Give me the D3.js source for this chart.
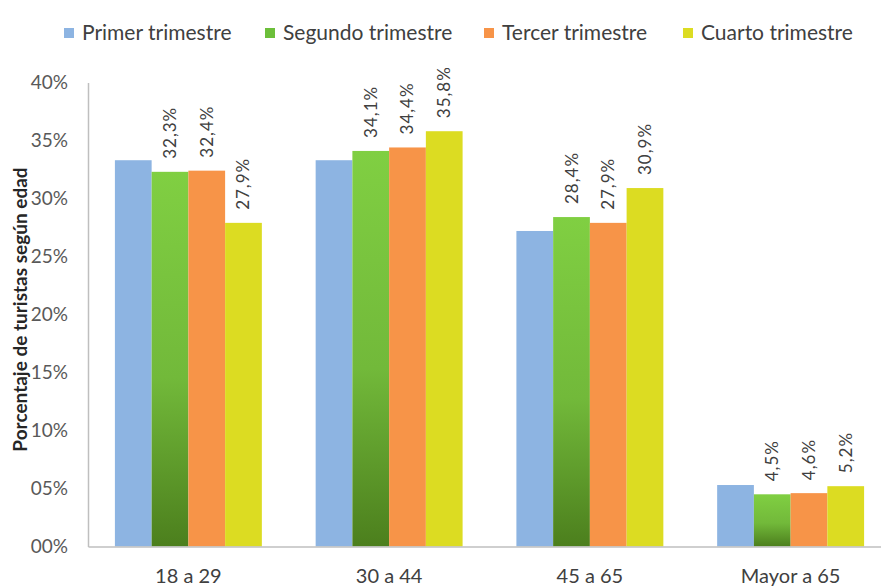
<!DOCTYPE html>
<html>
<head>
<meta charset="utf-8">
<script src="https://cdn.jsdelivr.net/npm/d3@7"></script>
<style>
  body { margin: 0; background: #fff; }
  svg text { font-family: Lato, "Open Sans", sans-serif; }
</style>
</head>
<body>
<div id="chart"></div>
<script>
var categories = ["18 a 29", "30 a 44", "45 a 65", "Mayor a 65"];
var seriesNames = ["Primer trimestre", "Segundo trimestre", "Tercer trimestre", "Cuarto trimestre"];
var primer  = [33.3, 33.3, 27.2, 5.3];
var segundo = [32.3, 34.1, 28.4, 4.5];
var tercer  = [32.4, 34.4, 27.9, 4.6];
var cuarto  = [27.9, 35.8, 30.9, 5.2];
var showLabel = [false, true, true, true];
var yTicks = [0, 5, 10, 15, 20, 25, 30, 35, 40];

function start(){
    var width = 881, height = 586;
    var margin = {top: 82.5, left: 88, right: -10, bottom: 39.5};

    var svg = d3.select("#chart").append("svg")
        .attr("width", width)
        .attr("height", height);

    var defs = svg.append("defs");
    var grad = defs.append("linearGradient")
        .attr("id", "greenGrad")
        .attr("x1", 0).attr("y1", 0).attr("x2", 0).attr("y2", 1);
    grad.append("stop").attr("offset", "0%").attr("stop-color", "#80cf42");
    grad.append("stop").attr("offset", "55%").attr("stop-color", "#72b93a");
    grad.append("stop").attr("offset", "100%").attr("stop-color", "#4c7f1d");

    var colors = ["#8db4e2", "url(#greenGrad)", "#f79448", "#dcdc22"];
    var legendColors = ["#8db4e2", "#6cbf3a", "#f79448", "#dcdc22"];

    var allSeries = [primer, segundo, tercer, cuarto];
    var rows = categories.map(function(c, i){
        return {cat: c, values: allSeries.map(function(s, j){ return {k: j, v: s[i]}; })};
    });

    var x0 = d3.scaleBand()
        .domain(categories)
        .range([margin.left, width - margin.right])
        .paddingInner(0.268)
        .paddingOuter(0.134);
    var x1 = d3.scaleBand()
        .domain(d3.range(seriesNames.length))
        .range([0, x0.bandwidth()]);
    var y = d3.scaleLinear()
        .domain([0, 40])
        .range([height - margin.bottom, margin.top]);

    // bars
    var groups = svg.append("g").selectAll("g")
        .data(rows).enter().append("g")
        .attr("transform", function(d){ return "translate(" + x0(d.cat) + ",0)"; });

    groups.selectAll("rect")
        .data(function(d){ return d.values; })
        .enter().append("rect")
        .attr("x", function(d){ return x1(d.k); })
        .attr("y", function(d){ return y(d.v); })
        .attr("width", x1.bandwidth())
        .attr("height", function(d){ return y(0) - y(d.v); })
        .attr("fill", function(d){ return colors[d.k]; });

    groups.selectAll("text")
        .data(function(d){ return d.values.filter(function(v){ return showLabel[v.k]; }); })
        .enter().append("text")
        .attr("transform", function(d){
            var cx = x1(d.k) + x1.bandwidth() / 2;
            return "translate(" + (cx + 6) + "," + (y(d.v) - 13) + ") rotate(-90)";
        })
        .attr("text-anchor", "start")
        .style("font-size", "17px")
        .style("fill", "#404040")
        .style("letter-spacing", "1px")
        .text(function(d){ return d.v.toFixed(1).replace(".", ",") + "%"; });

    // y axis
    var yAxis = svg.append("g")
        .attr("transform", "translate(" + margin.left + ",0)")
        .call(d3.axisLeft(y).tickValues(yTicks).tickSize(0).tickPadding(20)
            .tickFormat(function(d){ return (d < 10 ? "0" : "") + d + "%"; }));
    yAxis.select(".domain").attr("stroke", "#bfbfbf").attr("stroke-width", 1.5);
    yAxis.selectAll("text")
        .style("font-size", "19px")
        .style("fill", "#595959");

    // x axis
    var xAxis = svg.append("g")
        .attr("transform", "translate(0," + y(0) + ")")
        .call(d3.axisBottom(x0).tickSize(0).tickSizeOuter(0).tickPadding(22));
    xAxis.select(".domain").attr("stroke", "#bfbfbf").attr("stroke-width", 1.5);
    xAxis.selectAll("text")
        .style("font-size", "20px")
        .style("fill", "#404040");

    // y title
    svg.append("text")
        .attr("transform", "translate(27," + ((y(0) + y(40)) / 2 - 5) + ") rotate(-90)")
        .attr("text-anchor", "middle")
        .style("font-size", "19px")
        .style("font-weight", "bold")
        .style("fill", "#262626")
        .text("Porcentaje de turistas según edad");

    // legend
    var legendX = [64, 265, 484, 683];
    var legend = svg.append("g").selectAll("g")
        .data(seriesNames).enter().append("g")
        .attr("transform", function(d, i){ return "translate(" + legendX[i] + ",28)"; });
    legend.append("rect")
        .attr("width", 10).attr("height", 10)
        .attr("fill", function(d, i){ return legendColors[i]; });
    legend.append("text")
        .attr("x", 18).attr("y", 5)
        .attr("dy", "0.35em")
        .style("font-size", "21px")
        .style("fill", "#404040")
        .text(function(d){ return d; });
}

start();
</script>
</body>
</html>
